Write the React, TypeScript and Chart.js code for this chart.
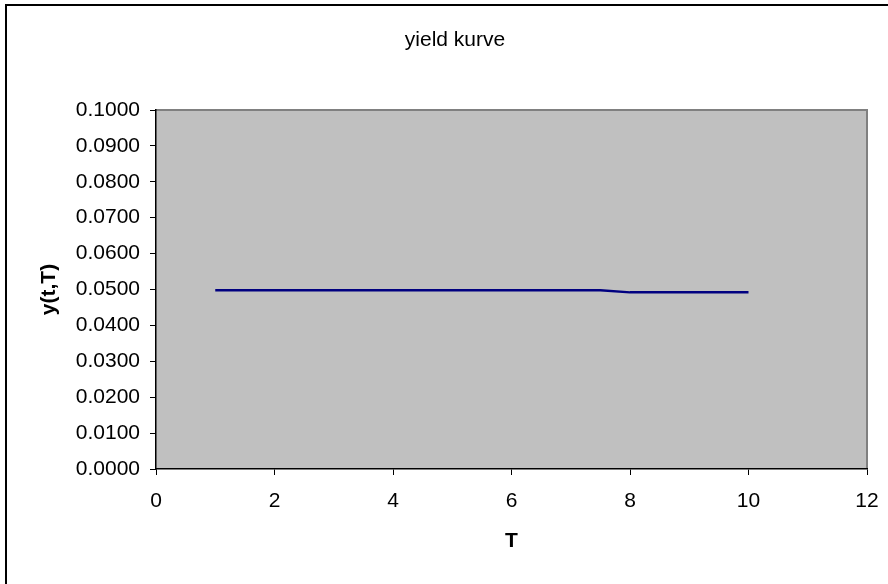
import React, { useEffect, useRef } from "react";
import { Chart, registerables } from "chart.js";

Chart.register(...registerables);

const chartTitle = "yield kurve";
const xTitle = "T";
const yTitle = "y(t,T)";
const maturities = [1, 1.5, 2, 2.5, 3, 3.5, 4, 4.5, 5, 5.5, 6, 6.5, 7, 7.5, 8, 8.5, 9, 9.5, 10];
const yields = [
  0.0498, 0.0498, 0.0498, 0.0498, 0.0498, 0.0498, 0.0498, 0.0498, 0.0498, 0.0498,
  0.0498, 0.0498, 0.0498, 0.0498, 0.0492, 0.0492, 0.0492, 0.0492, 0.0492,
];
const xMin = 0;
const xMax = 12;
const xStep = 2;
const yMin = 0;
const yMax = 0.1;
const yStep = 0.01;

const FONT = "'Liberation Sans', Arial, sans-serif";

const framePlugin = {
  id: "frameAndBg",
  beforeDraw(chart: any) {
    const { ctx, chartArea } = chart;
    ctx.save();
    ctx.fillStyle = "#ffffff";
    ctx.fillRect(0, 0, chart.width, chart.height);
    ctx.strokeStyle = "#000000";
    ctx.lineWidth = 2;
    ctx.beginPath();
    ctx.moveTo(6, chart.height);
    ctx.lineTo(6, 5);
    ctx.lineTo(chart.width, 5);
    ctx.stroke();
    ctx.fillStyle = "#c0c0c0";
    ctx.fillRect(chartArea.left, chartArea.top, chartArea.right - chartArea.left, chartArea.bottom - chartArea.top);
    ctx.strokeStyle = "#808080";
    ctx.lineWidth = 2;
    ctx.beginPath();
    ctx.moveTo(chartArea.left, chartArea.top);
    ctx.lineTo(chartArea.right, chartArea.top);
    ctx.lineTo(chartArea.right, chartArea.bottom);
    ctx.stroke();
    ctx.fillStyle = "#000";
    ctx.font = `21px ${FONT}`;
    ctx.textAlign = "center";
    ctx.textBaseline = "alphabetic";
    ctx.fillText(chartTitle, 455, 46);
    ctx.restore();
  },
};

export default function App() {
  const ref = useRef<HTMLCanvasElement | null>(null);
  useEffect(() => {
    if (!ref.current) return;
    const chart = new Chart(ref.current, {
      type: "line",
      data: {
        datasets: [
          {
            data: maturities.map((x, i) => ({ x, y: yields[i] })),
            borderColor: "#000080",
            borderWidth: 2.5,
            pointRadius: 0,
            fill: false,
            tension: 0,
          },
        ],
      },
      options: {
        animation: false,
        responsive: false,
        layout: { padding: { top: 110, right: 21, left: 0, bottom: 0 } },
        plugins: { legend: { display: false }, title: { display: false }, tooltip: { enabled: false } },
        scales: {
          x: {
            type: "linear",
            min: xMin,
            max: xMax,
            afterFit: (s: any) => {
              s.height = 115;
              s.paddingLeft = 0;
              s.paddingRight = 0;
            },
            ticks: {
              stepSize: xStep,
              color: "#000",
              font: { size: 21, family: FONT },
              padding: 14,
            },
            grid: { drawOnChartArea: false, drawTicks: true, tickLength: 6, color: "#000" },
            border: { color: "#000", width: 1.5 },
            title: {
              display: true,
              text: xTitle,
              color: "#000",
              font: { size: 21, weight: "bold", family: FONT },
              padding: { top: 30, bottom: 30 },
            },
          },
          y: {
            type: "linear",
            min: yMin,
            max: yMax,
            afterFit: (s: any) => {
              s.width = 156;
              s.paddingTop = 0;
              s.paddingBottom = 0;
            },
            ticks: {
              stepSize: yStep,
              color: "#000",
              font: { size: 21, family: FONT },
              padding: 10,
              callback: (v: any) => Number(v).toFixed(4),
            },
            grid: { drawOnChartArea: false, drawTicks: true, tickLength: 6, color: "#000" },
            border: { color: "#000", width: 1.5 },
            title: {
              display: true,
              text: yTitle,
              color: "#000",
              font: { size: 21, weight: "bold", family: FONT },
              padding: { top: 37, bottom: 37 },
            },
          },
        },
      },
      plugins: [framePlugin],
    });
    return () => chart.destroy();
  }, []);
  return (
    <div style={{ position: "absolute", left: 0, top: 0, width: 888, height: 584 }}>
      <canvas ref={ref} width={888} height={584} style={{ width: 888, height: 584 }} />
    </div>
  );
}
